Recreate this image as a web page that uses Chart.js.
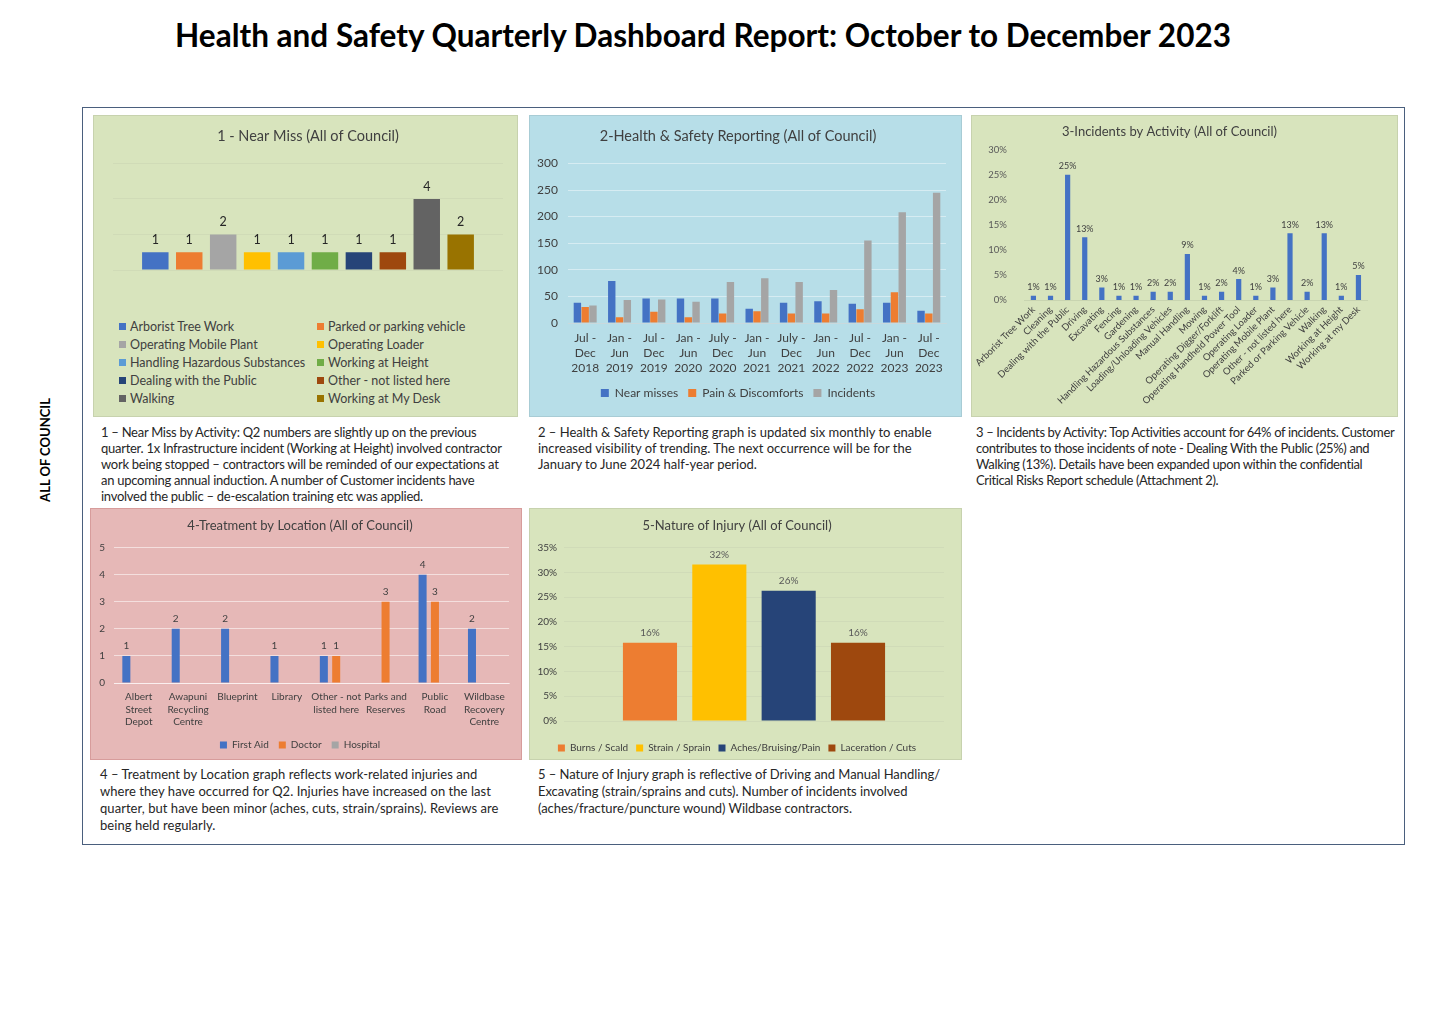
<!DOCTYPE html>
<html>
<head>
<meta charset="utf-8">
<script src="https://cdn.jsdelivr.net/npm/chart.js@4.4.1/dist/chart.umd.min.js"></script>
<style>
  body { margin: 0; background: #fff; font-family: Lato, "DejaVu Sans", sans-serif; color: #262626; }
  #page { position: relative; width: 1443px; height: 1021px; overflow: hidden; }
  .title { position: absolute; left: 0; width: 1406px; top: 16px; margin: 0; text-align: center; font-size: 31.5px; font-weight: 700; color: #000; white-space: nowrap; }
  .side { position: absolute; left: 45px; top: 450px; transform: translate(-50%, -50%) rotate(-90deg); font-size: 13px; font-weight: 700; white-space: nowrap; color: #000; }
  .frame { position: absolute; left: 82px; top: 107px; width: 1321px; height: 736px; border: 1.5px solid #4a5f7d; }
  .panel { position: absolute; border: 1px solid rgba(0,0,0,0.08); box-sizing: border-box; }
  .green { background: #d8e4bd; }
  .blue { background: #b7dee8; }
  .pink { background: #e6b8b7; border-color: #d79c9b; }
  .box { position: absolute; left: 0; top: 0; }
  .note { position: absolute; font-size: 13px; line-height: 16px; white-space: nowrap; color: #262626; }
  .note.tight { line-height: 17px; }
  #legend1 { position: absolute; left: 25px; top: 202px; width: 400px; font-size: 12.5px; color: #404040; }
  #legend1 .item { position: absolute; height: 18px; line-height: 18px; white-space: nowrap; }
  #legend1 .sw { display: inline-block; width: 7px; height: 7px; margin-right: 4px; vertical-align: 1px; }
</style>
</head>
<body>
<div id="page">
  <h1 class="title">Health and Safety Quarterly Dashboard Report: October to December 2023</h1>
  <div class="side">ALL OF COUNCIL</div>
  <div class="frame"></div>

  <div class="panel green" style="left:93px;top:115px;width:425px;height:302px;">
    <div class="box" style="width:425px;height:200px;"><canvas id="nearMissChart"></canvas></div>
    <div id="legend1"></div>
  </div>
  <div class="panel blue" style="left:529px;top:115px;width:433px;height:302px;">
    <div class="box" style="width:433px;height:302px;"><canvas id="reportingChart"></canvas></div>
  </div>
  <div class="panel green" style="left:971px;top:115px;width:427px;height:302px;">
    <div class="box" style="width:427px;height:302px;"><canvas id="activityChart"></canvas></div>
  </div>
  <div class="panel pink" style="left:90px;top:508px;width:432px;height:252px;">
    <div class="box" style="width:432px;height:252px;"><canvas id="treatmentChart"></canvas></div>
  </div>
  <div class="panel green" style="left:529px;top:508px;width:433px;height:252px;">
    <div class="box" style="width:433px;height:254px;"><canvas id="injuryChart"></canvas></div>
  </div>

  <div class="note" style="left:101px;top:424px;letter-spacing:-0.27px;">1 – Near Miss by Activity: Q2 numbers are slightly up on the previous<br>quarter. 1x Infrastructure incident (Working at Height) involved contractor<br>work being stopped – contractors will be reminded of our expectations at<br>an upcoming annual induction. A number of Customer incidents have<br>involved the public – de-escalation training etc was applied.</div>
  <div class="note" style="left:538px;top:424px;">2 – Health &amp; Safety Reporting graph is updated six monthly to enable<br>increased visibility of trending. The next occurrence will be for the<br>January to June 2024 half-year period.</div>
  <div class="note" style="left:976px;top:424px;letter-spacing:-0.37px;">3 – Incidents by Activity: Top Activities account for 64% of incidents. Customer<br>contributes to those incidents of note - Dealing With the Public (25%) and<br>Walking (13%). Details have been expanded upon within the confidential<br>Critical Risks Report schedule (Attachment 2).</div>
  <div class="note tight" style="left:100px;top:766px;letter-spacing:0.05px;">4 – Treatment by Location graph reflects work-related injuries and<br>where they have occurred for Q2. Injuries have increased on the last<br>quarter, but have been minor (aches, cuts, strain/sprains). Reviews are<br>being held regularly.</div>
  <div class="note tight" style="left:538px;top:766px;letter-spacing:-0.05px;">5 – Nature of Injury graph is reflective of Driving and Manual Handling/<br>Excavating (strain/sprains and cuts). Number of incidents involved<br>(aches/fracture/puncture  wound) Wildbase contractors.</div>
</div>

<script>
// 1 - near miss by activity
const nearMissActivities = ["Arborist Tree Work", "Parked or parking vehicle", "Operating Mobile Plant", "Operating Loader",
  "Handling Hazardous Substances", "Working at Height", "Dealing with the Public", "Other - not listed here",
  "Walking", "Working at My Desk"];
const nearMissCounts = [1, 1, 2, 1, 1, 1, 1, 1, 4, 2];

// 2 - six-monthly reporting
const periods = [["Jul -", "Dec", "2018"], ["Jan -", "Jun", "2019"], ["Jul -", "Dec", "2019"], ["Jan -", "Jun", "2020"],
  ["July -", "Dec", "2020"], ["Jan -", "Jun", "2021"], ["July -", "Dec", "2021"], ["Jan -", "Jun", "2022"],
  ["Jul -", "Dec", "2022"], ["Jan -", "Jun", "2023"], ["Jul -", "Dec", "2023"]];
const nearMisses = [38, 79, 46, 46, 46, 27, 38, 41, 36, 38, 23];
const painDiscomforts = [30, 11, 21, 11, 18, 22, 18, 18, 26, 58, 18];
const incidents = [33, 43, 44, 40, 77, 84, 77, 62, 155, 208, 245];

// 3 - incidents by activity (%)
const activities = ["Arborist Tree Work", "Cleaning", "Dealing with the Public", "Driving", "Excavating", "Fencing",
  "Gardening", "Handling Hazardous Substances", "Loading/Unloading Vehicles", "Manual Handling", "Mowing",
  "Operating Digger/Forklift", "Operating Handheld Power Tool", "Operating Loader", "Operating Mobile Plant",
  "Other - not listed here", "Parked or Parking Vehicle", "Walking", "Working at Height", "Working at my Desk"];
const activityPct = [0.83, 0.83, 25, 12.5, 2.5, 0.83, 0.83, 1.67, 1.67, 9.17, 0.83, 1.67, 4.17, 0.83, 2.5, 13.33, 1.67, 13.33, 0.83, 5];

// 4 - treatment by location
const locations = [["Albert", "Street", "Depot"], ["Awapuni", "Recycling", "Centre"], "Blueprint", "Library",
  ["Other - not", "listed here"], ["Parks and", "Reserves"], ["Public", "Road"], ["Wildbase", "Recovery", "Centre"]];
const firstAid = [1, 2, 2, 1, 1, 0, 4, 2];
const doctor = [0, 0, 0, 0, 1, 3, 3, 0];
const hospital = [0, 0, 0, 0, 0, 0, 0, 0];

// 5 - nature of injury (%)
const injuryTypes = ["Burns / Scald", "Strain / Sprain", "Aches/Bruising/Pain", "Laceration / Cuts"];
const injuryPct = [15.8, 31.6, 26.3, 15.8];

const officeColors = ["#4472c4", "#ed7d31", "#a5a5a5", "#ffc000", "#5b9bd5", "#70ad47", "#264478", "#9e480e", "#636363", "#997300"];
const injuryColors = ["#ed7d31", "#ffc000", "#264478", "#9e480e"];

Chart.defaults.font.family = "Lato, 'DejaVu Sans', sans-serif";
Chart.defaults.color = "#595959";
Chart.defaults.animation = false;
Chart.defaults.plugins.tooltip.enabled = false;

// value labels above bars
const barLabels = {
  id: "barLabels",
  afterDatasetsDraw(chart, args, opts) {
    const ctx = chart.ctx;
    ctx.save();
    ctx.font = opts.size + "px Lato, 'DejaVu Sans', sans-serif";
    ctx.fillStyle = opts.color;
    ctx.textAlign = "center";
    ctx.textBaseline = "bottom";
    chart.data.datasets.forEach((ds, i) => {
      chart.getDatasetMeta(i).data.forEach((bar, j) => {
        const v = ds.data[j];
        if (!v) return;
        ctx.fillText(Math.round(v) + (opts.suffix || ""), bar.x, bar.y - opts.offset);
      });
    });
    ctx.restore();
  }
};

const titleOpts = (text, size, top, bottom) => ({
  display: true, text: text, color: "#404040",
  font: { size: size, weight: "normal" }, padding: { top: top, bottom: bottom }
});

const fixWidth = w => (s => { s.width = w; });
const fixHeight = h => (s => { s.height = h; });

const drawNearMiss = () => {
  const chart = new Chart(document.getElementById("nearMissChart"), {
    type: "bar",
    data: {
      labels: [""],
      datasets: nearMissActivities.map((name, i) => ({
        label: name, data: [nearMissCounts[i]], backgroundColor: officeColors[i]
      }))
    },
    options: {
      responsive: true, maintainAspectRatio: false,
      layout: { padding: { left: 19, right: 16, bottom: 46 } },
      datasets: { bar: { categoryPercentage: 0.87, barPercentage: 0.78 } },
      plugins: {
        legend: { display: false },
        title: titleOpts("1 - Near Miss (All of Council)", 14.5, 12, 18),
        barLabels: { size: 12.5, color: "#262626", offset: 6 }
      },
      scales: {
        x: { display: false },
        y: {
          min: 0, max: 6, ticks: { display: false, stepSize: 2 },
          border: { display: false },
          grid: { color: "rgba(190,200,170,0.3)", drawTicks: false },
          afterFit: fixWidth(0)
        }
      }
    },
    plugins: [barLabels]
  });

  // two-column legend under the chart, as in the report
  const legend = document.getElementById("legend1");
  chart.data.datasets.forEach((ds, i) => {
    const item = document.createElement("div");
    item.className = "item";
    item.style.left = (i % 2 ? 198 : 0) + "px";
    item.style.top = (Math.floor(i / 2) * 18) + "px";
    item.innerHTML = '<span class="sw" style="background:' + ds.backgroundColor + '"></span>' + ds.label;
    legend.appendChild(item);
  });
};

const drawReporting = () => {
  new Chart(document.getElementById("reportingChart"), {
    type: "bar",
    data: {
      labels: periods,
      datasets: [
        { label: "Near misses", data: nearMisses, backgroundColor: "#4472c4" },
        { label: "Pain & Discomforts", data: painDiscomforts, backgroundColor: "#ed7d31" },
        { label: "Incidents", data: incidents, backgroundColor: "#a5a5a5" }
      ]
    },
    options: {
      responsive: true, maintainAspectRatio: false,
      layout: { padding: { right: 17, bottom: 9 } },
      datasets: { bar: { categoryPercentage: 0.68, barPercentage: 0.95 } },
      plugins: {
        title: titleOpts("2-Health & Safety Reporting (All of Council)", 14.5, 12, 18),
        legend: {
          position: "bottom",
          labels: { boxWidth: 8, boxHeight: 8, padding: 10, color: "#404040", font: { size: 12 } }
        }
      },
      scales: {
        x: {
          grid: { display: false, drawTicks: false }, border: { color: "#c9d9dd" },
          ticks: { color: "#404040", font: { size: 12, lineHeight: 1.25 }, padding: 8, maxRotation: 0, autoSkip: false },
          afterFit: fixHeight(54)
        },
        y: {
          min: 0, max: 300, ticks: { stepSize: 50, color: "#404040", font: { size: 12 }, padding: 10 },
          border: { display: false },
          grid: { color: "rgba(235,245,248,0.6)", drawTicks: false },
          afterFit: fixWidth(38)
        }
      }
    }
  });
};

const drawActivity = () => {
  new Chart(document.getElementById("activityChart"), {
    type: "bar",
    data: {
      labels: activities,
      datasets: [{ label: "Incidents", data: activityPct, backgroundColor: "#4472c4" }]
    },
    options: {
      responsive: true, maintainAspectRatio: false,
      layout: { padding: { right: 32 } },
      datasets: { bar: { categoryPercentage: 0.8, barPercentage: 0.38 } },
      plugins: {
        legend: { display: false },
        title: titleOpts("3-Incidents by Activity (All of Council)", 13, 8, 10),
        barLabels: { size: 9, color: "#404040", offset: 4, suffix: "%" }
      },
      scales: {
        x: {
          grid: { display: false, drawTicks: false }, border: { color: "#c8d4b0" },
          ticks: { color: "#404040", font: { size: 9.5 }, minRotation: 45, maxRotation: 45, autoSkip: false, padding: 4 },
          afterFit: fixHeight(118)
        },
        y: {
          min: 0, max: 30,
          ticks: { stepSize: 5, color: "#595959", font: { size: 9.5 }, padding: 10, callback: v => v + "%" },
          border: { display: false }, grid: { display: false },
          afterFit: fixWidth(47)
        }
      }
    },
    plugins: [barLabels]
  });
};

const drawTreatment = () => {
  new Chart(document.getElementById("treatmentChart"), {
    type: "bar",
    data: {
      labels: locations,
      datasets: [
        { label: "First Aid", data: firstAid, backgroundColor: "#4472c4" },
        { label: "Doctor", data: doctor, backgroundColor: "#ed7d31" },
        { label: "Hospital", data: hospital, backgroundColor: "#a5a5a5" }
      ]
    },
    options: {
      responsive: true, maintainAspectRatio: false,
      layout: { padding: { right: 14, bottom: 1 } },
      datasets: { bar: { categoryPercentage: 0.75, barPercentage: 0.65 } },
      plugins: {
        title: titleOpts("4-Treatment by Location (All of Council)", 13, 9, 14),
        legend: {
          position: "bottom",
          labels: { boxWidth: 7, boxHeight: 7, padding: 10, color: "#404040", font: { size: 10 } }
        },
        barLabels: { size: 10, color: "#404040", offset: 5 }
      },
      scales: {
        x: {
          grid: { display: false, drawTicks: false }, border: { color: "rgba(255,255,255,0.5)" },
          ticks: { color: "#404040", font: { size: 10, lineHeight: 1.25 }, padding: 8, maxRotation: 0, autoSkip: false },
          afterFit: fixHeight(47)
        },
        y: {
          min: 0, max: 5,
          ticks: { stepSize: 1, color: "#404040", font: { size: 10 }, padding: 9 },
          border: { display: false },
          grid: { color: "rgba(255,255,255,0.55)", drawTicks: false },
          afterFit: fixWidth(23)
        }
      }
    },
    plugins: [barLabels]
  });
};

const drawInjury = () => {
  new Chart(document.getElementById("injuryChart"), {
    type: "bar",
    data: {
      labels: [""],
      datasets: injuryTypes.map((name, i) => ({
        label: name, data: [injuryPct[i]], backgroundColor: injuryColors[i]
      }))
    },
    options: {
      responsive: true, maintainAspectRatio: false,
      layout: { padding: { right: 19 } },
      datasets: { bar: { categoryPercentage: 0.73, barPercentage: 0.78 } },
      plugins: {
        title: titleOpts("5-Nature of Injury (All of Council)", 13, 9, 14),
        legend: {
          position: "bottom",
          labels: { boxWidth: 7, boxHeight: 7, padding: 8, color: "#404040", font: { size: 10 } }
        },
        barLabels: { size: 10, color: "#595959", offset: 5, suffix: "%" }
      },
      scales: {
        x: {
          ticks: { display: false }, grid: { display: false, drawTicks: false }, border: { display: false },
          afterFit: fixHeight(14)
        },
        y: {
          min: 0, max: 35,
          ticks: { stepSize: 5, color: "#404040", font: { size: 10 }, padding: 7, callback: v => v + "%" },
          border: { display: false },
          grid: { color: "rgba(200,210,180,0.5)", drawTicks: false },
          afterFit: fixWidth(34)
        }
      }
    },
    plugins: [barLabels]
  });
};

drawNearMiss();
drawReporting();
drawActivity();
drawTreatment();
drawInjury();
</script>
</body>
</html>
